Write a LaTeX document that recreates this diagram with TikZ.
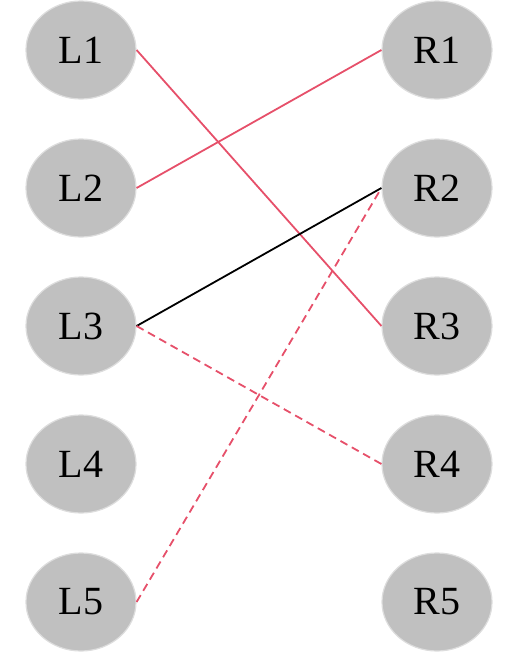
\documentclass[tikz,border=0pt]{standalone}
\usepackage{fontspec}
\setmainfont{Liberation Serif}
\usetikzlibrary{shapes.geometric}
\definecolor{cnode}{HTML}{C0C0C0}
\definecolor{cborder}{HTML}{DDDDDD}
\definecolor{cred}{HTML}{E6506A}

\begin{document}
\begin{tikzpicture}[x=1pt,y=-1pt,
  vertex/.style={ellipse,draw=cborder,line width=1.2pt,fill=cnode,
    minimum width=110pt,minimum height=98pt,inner sep=0pt,
    font=\fontsize{40}{44}\selectfont},
  edge/.style={line width=1.8pt},
  match/.style={edge,cred},
  candidate/.style={edge,cred,dash pattern=on 8pt off 5pt}]
  \useasboundingbox (0,0) rectangle (524,654);
  \foreach \i in {1,...,5} {
    \node[vertex] (L\i) at (81,{50+138*(\i-1)}) {L\i};
    \node[vertex] (R\i) at (437,{50+138*(\i-1)}) {R\i};
  }
  \draw[match] (L1.east) -- (R3.west);
  \draw[match] (L2.east) -- (R1.west);
  \draw[edge] (L3.east) -- (R2.west);
  \draw[candidate] (L3.east) -- (R4.west);
  \draw[candidate] (L5.east) -- (R2.west);
\end{tikzpicture}
\end{document}
